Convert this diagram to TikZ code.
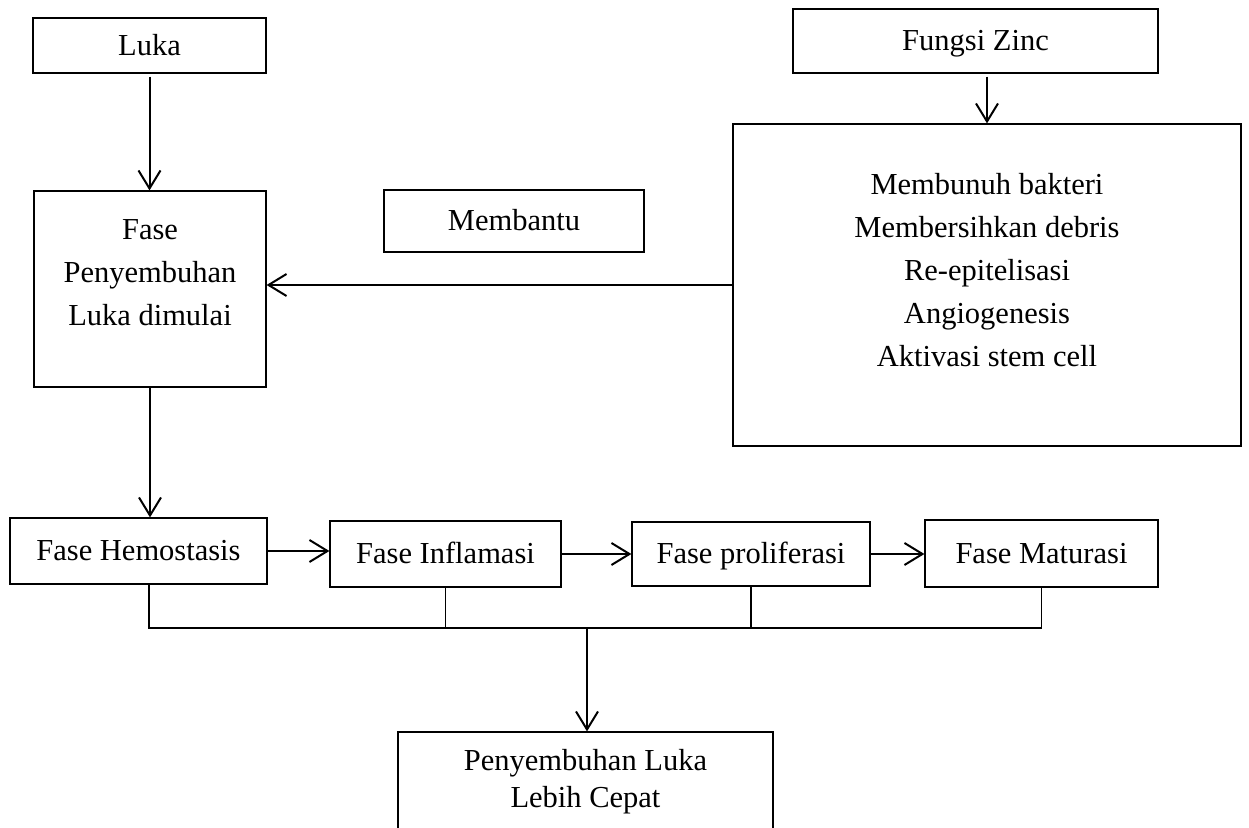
\documentclass[tikz,border=0pt]{standalone}
\usepackage{fontspec}
\setmainfont{Liberation Serif}
\usetikzlibrary{arrows.meta}

\begin{document}
\begin{tikzpicture}[
    x=0.5pt, y=-0.5pt,
    >={Straight Barb[length=9pt,width=11pt]},
    box node/.style={draw, line width=0.6pt, inner sep=0pt, align=center,
      text height=10pt, text depth=0pt,
      font=\fontsize{15.25}{21.5}\selectfont},
    frame node/.style={draw, line width=0.6pt, inner sep=0pt},
    text node/.style={align=center, inner sep=0pt,
      font=\fontsize{15.25}{21.5}\selectfont},
    flow line/.style={line width=1pt},
    flow arrow/.style={flow line, ->}
    ]
    \useasboundingbox (0,0) rectangle (1249,828);
    \clip (0,0) rectangle (1249,828);

    % upper part
    \node[box node, minimum width=116.5pt, minimum height=27.5pt] (luka) at (149.5,45.5) {Luka};
    \node[frame node, minimum width=116pt, minimum height=98pt] (fase) at (150,289) {};
    \node[text node] (fasetext) at (150,273) {Fase\\Penyembuhan\\Luka dimulai};
    \node[box node, minimum width=130pt, minimum height=31pt] (membantu) at (514,221) {Membantu};
    \node[box node, minimum width=182.5pt, minimum height=32pt] (zinc) at (975.5,41) {Fungsi Zinc};
    \node[frame node, minimum width=254pt, minimum height=161pt] (fungsi) at (987,285) {};
    \node[text node] (fungsitext) at (987,270) {Membunuh bakteri\\Membersihkan debris\\Re-epitelisasi\\Angiogenesis\\Aktivasi stem cell};

    % phases
    \node[box node, minimum width=128.5pt, minimum height=33pt] (hemo) at (138.5,551) {Fase Hemostasis};
    \node[box node, minimum width=115.5pt, minimum height=33pt] (infl) at (445.5,554) {Fase Inflamasi};
    \node[box node, minimum width=119pt, minimum height=32pt] (prol) at (751,554) {Fase proliferasi};
    \node[box node, minimum width=116.5pt, minimum height=33.5pt] (matu) at (1041.5,553.5) {Fase Maturasi};

    % result
    \node[frame node, minimum width=187.5pt, minimum height=60pt] (hasil) at (585.5,792) {};
    \node[text node, font=\fontsize{15.25}{18.5}\selectfont] (hasiltext) at (585.5,781.5) {Penyembuhan Luka\\Lebih Cepat};
    \coordinate (bus) at (587,628);

    \draw[flow arrow, shorten <=1.5pt] (luka.south) -- (luka.south |- fase.north);
    \draw[flow arrow, shorten <=1.5pt] (zinc.south -| fungsi.north) -- (fungsi.north);
    \draw[flow arrow] (fungsi.west) -- (fungsi.west -| fase.east);
    \draw[flow arrow] (fase.south) -- (fase.south |- hemo.north);
    \draw[flow arrow] (hemo.east) -- (hemo.east -| infl.west);
    \draw[flow arrow] (infl.east) -- (infl.east -| prol.west);
    \draw[flow arrow] (prol.east) -- (prol.east -| matu.west);

    \foreach \n in {infl,prol,matu}
      \draw[flow line, line width=0.8pt] (\n.south) -- (\n.south |- bus);
    \draw[flow line, line width=0.8pt] ([xshift=5.25pt]hemo.south) |- (matu.south |- bus);
    \draw[flow arrow] (bus) -- (bus |- hasil.north);
\end{tikzpicture}
\end{document}
